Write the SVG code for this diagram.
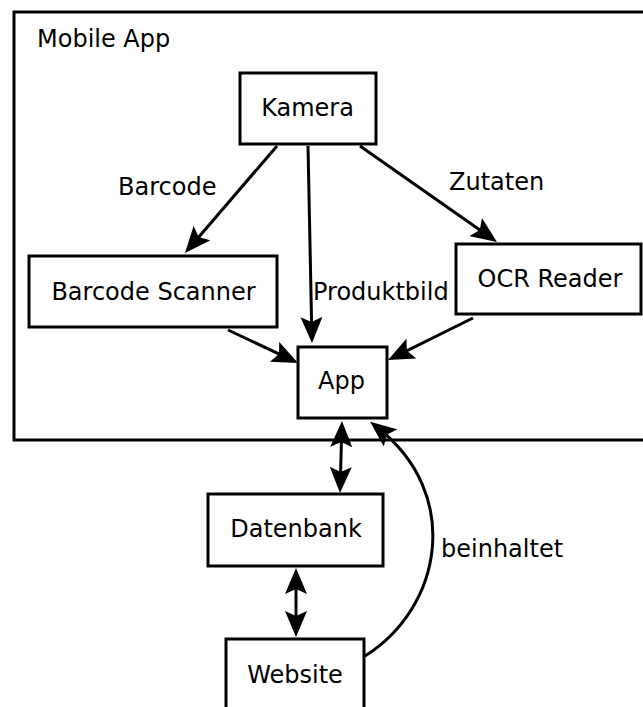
<svg xmlns="http://www.w3.org/2000/svg" width="643" height="707" viewBox="0 0 643 707">
<style>
.box{fill:#fff;stroke:#000;stroke-width:3}
.frame{fill:none;stroke:#000;stroke-width:3}
text{font-family:"DejaVu Sans","Liberation Sans",sans-serif;font-size:24px;fill:#000}
.c{text-anchor:middle}
.e{fill:none;stroke:#000;stroke-width:3}
</style>
<defs>
<marker id="ah" viewBox="0 0 26 22" refX="16" refY="11" markerWidth="26" markerHeight="22" markerUnits="userSpaceOnUse" orient="auto-start-reverse">
<path d="M0,0 L26,11 L0,22 L5,11 z" fill="#000"/>
</marker>
</defs>
<g id="mobile-app">
<rect class="frame" x="14" y="12" width="660" height="428"/>
<text x="37" y="47">Mobile App</text>
</g>
<g id="kamera">
<rect class="box" x="240" y="73" width="136" height="71"/>
<text class="c" x="307.5" y="116">Kamera</text>
</g>
<g id="barcode-scanner">
<rect class="box" x="29" y="256" width="248" height="71"/>
<text class="c" x="153.5" y="300">Barcode Scanner</text>
</g>
<g id="ocr-reader">
<rect class="box" x="456" y="244" width="185" height="70"/>
<text class="c" x="550" y="287">OCR Reader</text>
</g>
<g id="app">
<rect class="box" x="298" y="347" width="89" height="71"/>
<text class="c" x="341.5" y="389">App</text>
</g>
<g id="datenbank">
<rect class="box" x="208" y="494" width="175" height="72"/>
<text class="c" x="296" y="537">Datenbank</text>
</g>
<g id="website">
<rect class="box" x="226" y="639" width="138" height="90"/>
<text class="c" x="295" y="683">Website</text>
</g>
<g id="connectors">
<path class="e" d="M277,146 L191.5,245.4" marker-end="url(#ah)"/>
<path class="e" d="M308,146 L311.8,333" marker-end="url(#ah)"/>
<path class="e" d="M360,146 L488.8,236.3" marker-end="url(#ah)"/>
<path class="e" d="M228,330 L289,358.7" marker-end="url(#ah)"/>
<path class="e" d="M473,318 L397,355.6" marker-end="url(#ah)"/>
<path class="e" d="M341.7,431 L340.3,483" marker-start="url(#ah)" marker-end="url(#ah)"/>
<path class="e" d="M296,578 L296,627" marker-start="url(#ah)" marker-end="url(#ah)"/>
<path class="e" d="M365,656 C443,607 462,494 378,428" marker-end="url(#ah)"/>
<text x="118" y="195">Barcode</text>
<text x="313" y="300">Produktbild</text>
<text x="449" y="190">Zutaten</text>
<text x="441" y="557">beinhaltet</text>
</g>
</svg>
